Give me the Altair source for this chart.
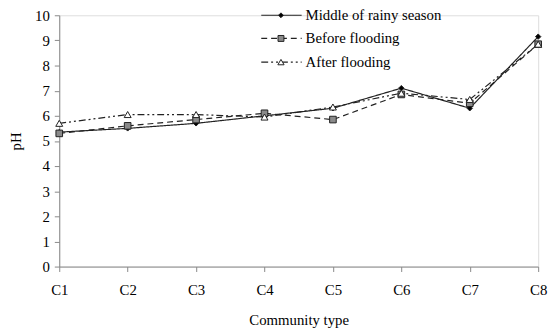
import altair as alt
import pandas as pd

communities = ["C1", "C2", "C3", "C4", "C5", "C6", "C7", "C8"]
series_names = ["Middle of rainy season", "Before flooding", "After flooding"]
middle = [5.35, 5.5, 5.7, 6.0, 6.3, 7.1, 6.3, 9.15]
before = [5.3, 5.6, 5.85, 6.1, 5.85, 6.85, 6.5, 8.85]
after = [5.7, 6.05, 6.05, 5.95, 6.35, 6.9, 6.65, 8.85]
y_ticks = list(range(0, 11))

values = {series_names[0]: middle, series_names[1]: before, series_names[2]: after}
styles = {
    series_names[0]: dict(dash=[1, 0], shape="diamond", fill="black", size=30),
    series_names[1]: dict(dash=[6, 4], shape="square", fill="#8a8a8a", size=45),
    series_names[2]: dict(dash=[7, 3, 2, 3, 2, 3], shape="triangle-up", fill="white", size=50),
}

FONT = "Liberation Serif"
xenc = alt.X("community:N", sort=communities,
             scale=alt.Scale(type="point", padding=0),
             axis=alt.Axis(title="Community type", labelAngle=0, grid=False,
                           domainColor="#888", tickColor="#888", tickSize=5,
                           labelPadding=11, titlePadding=16, labelFontSize=15,
                           titleFontSize=15, titleFontWeight="normal",
                           labelFont=FONT, titleFont=FONT, labelColor="black",
                           titleColor="black"))
yenc = alt.Y("ph:Q", scale=alt.Scale(domain=[0, 10], nice=False),
             axis=alt.Axis(title="pH", values=y_ticks, grid=False,
                           domainColor="#888", tickColor="#888", tickSize=5,
                           labelPadding=5, titlePadding=11, labelFontSize=15,
                           titleFontSize=15, titleFontWeight="normal",
                           labelFont=FONT, titleFont=FONT, labelColor="black",
                           titleColor="black"))

layers = []
legend_rows = [0, 23.5, 47.5]
for i, name in enumerate(series_names):
    st = styles[name]
    df = pd.DataFrame({"community": communities, "ph": values[name]})
    base = alt.Chart(df)
    layers.append(base.mark_line(color="#222", strokeWidth=1.2,
                                 strokeDash=st["dash"]).encode(x=xenc, y=yenc))
    layers.append(base.mark_point(shape=st["shape"], filled=True, fill=st["fill"],
                                  stroke="#222", strokeWidth=1, size=st["size"],
                                  opacity=1).encode(x=xenc, y=yenc))
    # legend entry
    ly = legend_rows[i]
    leg = alt.Chart(pd.DataFrame({"label": [name]}))
    layers.append(leg.mark_rule(color="#222", strokeWidth=1.2,
                                strokeDash=st["dash"]).encode(
        x=alt.value(205), x2=alt.value(246), y=alt.value(ly)))
    layers.append(leg.mark_point(shape=st["shape"], filled=True, fill=st["fill"],
                                 stroke="#222", strokeWidth=1, size=st["size"] * 0.8,
                                 opacity=1).encode(x=alt.value(225), y=alt.value(ly)))
    layers.append(leg.mark_text(align="left", baseline="middle", font=FONT,
                                fontSize=15, color="black").encode(
        x=alt.value(250), y=alt.value(ly), text="label:N"))

chart = alt.layer(*layers).properties(
    width=486, height=255,
    autosize=alt.AutoSizeParams(type="none"),
    padding={"left": 52, "top": 5, "right": 12, "bottom": 64},
).configure_view(stroke=None).configure(background="white")

chart.save("out.html", embed_options={"renderer": "svg", "actions": False})
